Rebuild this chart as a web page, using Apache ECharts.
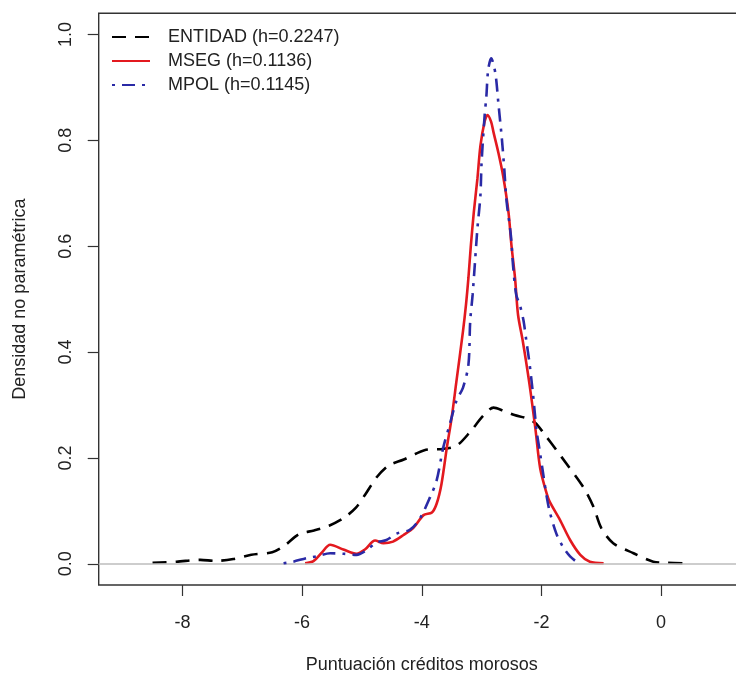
<!DOCTYPE html>
<html>
<head>
<meta charset="utf-8">
<script src="https://cdn.jsdelivr.net/npm/echarts@6/dist/echarts.min.js"></script>
<style>
html,body{margin:0;padding:0;background:#fff;overflow:hidden;}
#chart{width:750px;height:679px;}
</style>
</head>
<body>
<div id="chart"></div>
<script>
// Tick labels
var xTicks = [-8, -6, -4, -2, 0];
var yTicks = [0.0, 0.2, 0.4, 0.6, 0.8, 1.0];

// Series names
var seriesNames = ['ENTIDAD (h=0.2247)', 'MSEG (h=0.1136)', 'MPOL (h=0.1145)'];

// ENTIDAD
var entidadX = [-8.5, -8.1, -7.7, -7.45, -7.15, -6.85, -6.5, -6.3, -6.05, -5.8, -5.55, -5.3, -5.1, -4.95, -4.75, -4.55, -4.3, -4.1, -3.9, -3.65, -3.42, -3.2, -2.97, -2.8, -2.65, -2.45, -2.25, -2.1, -1.95, -1.75, -1.58, -1.3, -1.13, -1.0, -0.8, -0.46, -0.13, 0.1, 0.4];
var entidadY = [0.002, 0.004, 0.0075, 0.0055, 0.009, 0.017, 0.022, 0.034, 0.056, 0.063, 0.072, 0.087, 0.106, 0.130, 0.164, 0.186, 0.197, 0.208, 0.216, 0.217, 0.223, 0.248, 0.280, 0.295, 0.290, 0.281, 0.275, 0.266, 0.245, 0.215, 0.189, 0.145, 0.108, 0.068, 0.039, 0.020, 0.004, 0.002, 0.001];

// MSEG
var msegX = [-5.95, -5.81, -5.68, -5.53, -5.31, -5.09, -4.95, -4.78, -4.64, -4.48, -4.31, -4.14, -3.97, -3.83, -3.75, -3.67, -3.58, -3.50, -3.42, -3.31, -3.26, -3.22, -3.18, -3.13, -3.07, -3.02, -2.95, -2.90, -2.84, -2.80, -2.72, -2.64, -2.55, -2.50, -2.44, -2.39, -2.31, -2.20, -2.10, -2.02, -1.91, -1.86, -1.69, -1.52, -1.35, -1.19, -0.96];
var msegY = [0.001, 0.005, 0.020, 0.036, 0.027, 0.019, 0.027, 0.044, 0.039, 0.042, 0.054, 0.068, 0.092, 0.097, 0.114, 0.151, 0.220, 0.276, 0.345, 0.440, 0.490, 0.540, 0.600, 0.664, 0.727, 0.789, 0.835, 0.848, 0.835, 0.815, 0.777, 0.733, 0.664, 0.601, 0.539, 0.470, 0.420, 0.340, 0.255, 0.180, 0.132, 0.117, 0.083, 0.045, 0.017, 0.004, 0.001];

// MPOL
var mpolX = [-6.31, -6.15, -5.92, -5.76, -5.53, -5.31, -5.09, -4.92, -4.76, -4.59, -4.42, -4.20, -4.03, -3.86, -3.75, -3.64, -3.53, -3.42, -3.31, -3.22, -3.19, -3.15, -3.11, -3.07, -3.02, -3.00, -2.95, -2.92, -2.89, -2.84, -2.77, -2.72, -2.66, -2.62, -2.58, -2.51, -2.47, -2.42, -2.36, -2.30, -2.25, -2.20, -2.14, -2.08, -2.03, -1.97, -1.91, -1.86, -1.75, -1.64, -1.52, -1.38];
var mpolY = [0.001, 0.004, 0.011, 0.014, 0.020, 0.019, 0.017, 0.026, 0.040, 0.045, 0.057, 0.064, 0.086, 0.126, 0.158, 0.220, 0.264, 0.308, 0.333, 0.376, 0.458, 0.508, 0.570, 0.633, 0.695, 0.758, 0.845, 0.883, 0.933, 0.955, 0.927, 0.871, 0.802, 0.745, 0.683, 0.620, 0.558, 0.508, 0.489, 0.460, 0.420, 0.380, 0.320, 0.251, 0.215, 0.170, 0.126, 0.098, 0.057, 0.032, 0.014, 0.001];

function pairs(xs, ys) {
  var out = [];
  for (var i = 0; i < xs.length; i++) out.push([xs[i], ys[i]]);
  return out;
}

var FONT = "'Liberation Sans', Arial, sans-serif";
var TXT = '#222';

var chart = echarts.init(document.getElementById('chart'), null, {renderer: 'canvas'});
chart.setOption({
  animation: false,
  backgroundColor: '#fff',
  textStyle: {fontFamily: FONT},
  grid: {
    left: 98.7, top: 13.3, width: 646.1, height: 575.7,
    show: true, borderColor: '#333', borderWidth: 1.4, backgroundColor: 'transparent'
  },
  legend: {
    orient: 'vertical', left: 111, top: 27, padding: 0,
    itemWidth: 38, itemHeight: 14, itemGap: 4,
    itemStyle: {opacity: 0},
    textStyle: {fontFamily: FONT, fontSize: 18, color: TXT, lineHeight: 20, padding: [0, 0, 0, 13]},
    data: seriesNames
  },
  xAxis: {
    type: 'value', min: -9.4, max: 1.4,
    name: 'Puntuación créditos morosos', nameLocation: 'middle', nameGap: 71,
    nameTextStyle: {fontFamily: FONT, fontSize: 18, color: TXT},
    axisLine: {show: false, onZero: false},
    axisTick: {show: true, length: 11, customValues: xTicks, lineStyle: {color: '#333', width: 1.2}},
    axisLabel: {customValues: xTicks, margin: 29, fontFamily: FONT, fontSize: 18, color: TXT,
      formatter: function (v) { return String(v); }},
    splitLine: {show: false}
  },
  yAxis: {
    type: 'value', min: -0.04, max: 1.04,
    name: 'Densidad no paramétrica', nameLocation: 'middle', nameGap: 70, nameRotate: 90,
    nameTextStyle: {fontFamily: FONT, fontSize: 18, color: TXT},
    axisLine: {show: false, onZero: false},
    axisTick: {show: true, length: 11, customValues: yTicks, lineStyle: {color: '#333', width: 1.2}},
    axisLabel: {customValues: yTicks, rotate: 90, margin: 24, fontFamily: FONT, fontSize: 18, color: TXT,
      formatter: function (v) { return v.toFixed(1); }},
    splitLine: {show: false}
  },
  series: [
    {
      name: seriesNames[0], type: 'line', data: pairs(entidadX, entidadY),
      showSymbol: false, symbol: 'none', smooth: 0.3,
      lineStyle: {color: '#000', width: 2.6, type: [14, 9]},
      itemStyle: {color: '#000'},
      markLine: {
        silent: true, symbol: 'none', label: {show: false},
        lineStyle: {color: '#bdbdbd', width: 1.5, type: 'solid'},
        data: [{yAxis: 0}]
      },
      z: 3
    },
    {
      name: seriesNames[1], type: 'line', data: pairs(msegX, msegY),
      showSymbol: false, symbol: 'none', smooth: 0.3,
      lineStyle: {color: '#e3191f', width: 2.6, type: 'solid'},
      itemStyle: {color: '#e3191f'},
      z: 4
    },
    {
      name: seriesNames[2], type: 'line', data: pairs(mpolX, mpolY),
      showSymbol: false, symbol: 'none', smooth: 0.3,
      lineStyle: {color: '#2a2aa6', width: 2.6, type: [3, 7, 13, 7]},
      itemStyle: {color: '#2a2aa6'},
      z: 5
    }
  ]
});
</script>
</body>
</html>
